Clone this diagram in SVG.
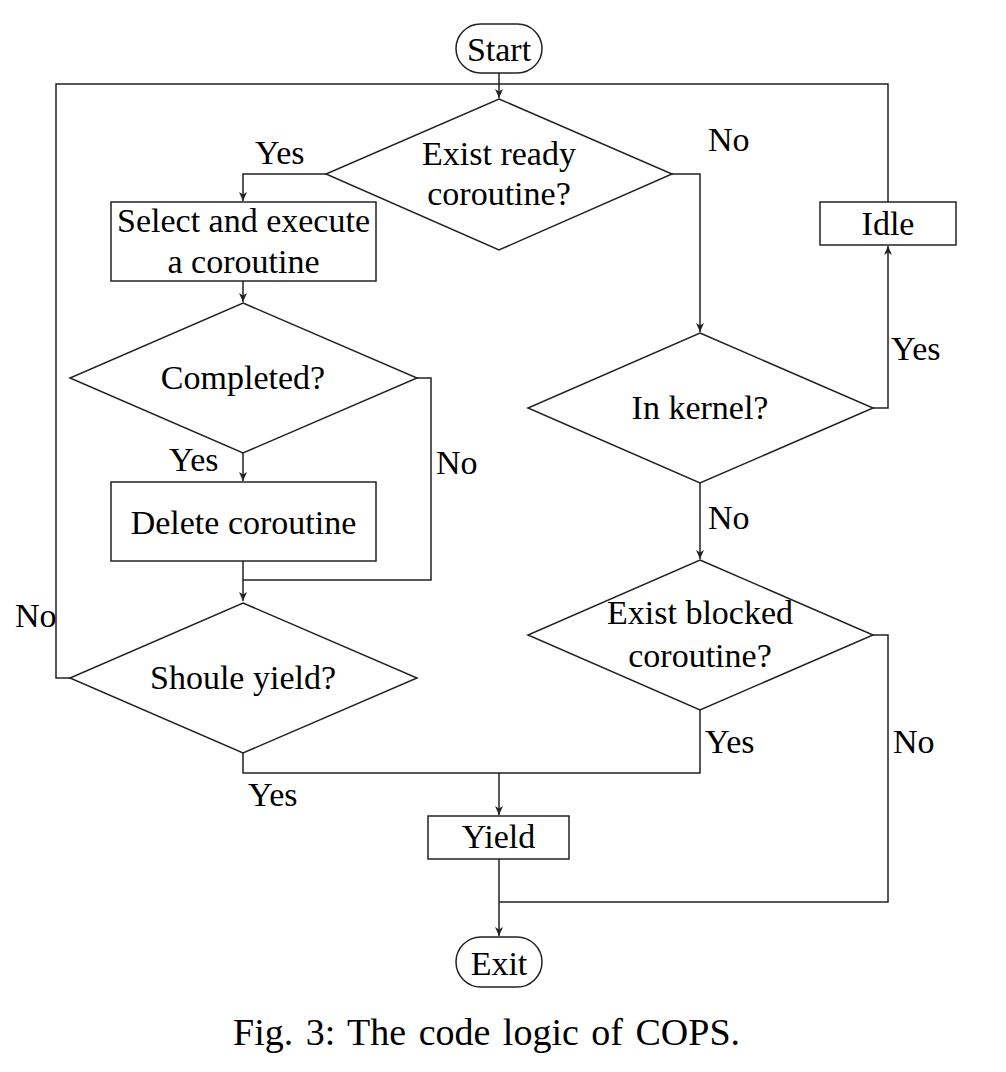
<svg xmlns="http://www.w3.org/2000/svg" width="1006" height="1072" viewBox="0 0 1006 1072">
<style>
  .shape { fill: #fff; stroke: #222; stroke-width: 1.5; }
  .conn { fill: none; stroke: #222; stroke-width: 1.5; }
  text { font-family: "Liberation Serif", "Times New Roman", serif; font-size: 34px; fill: #000; }
  .c { text-anchor: middle; }
  .cap { font-size: 38px; word-spacing: 3px; }
</style>
<defs>
  <marker id="arr" markerUnits="userSpaceOnUse" markerWidth="12" markerHeight="12" viewBox="-10 -6 12 12" refX="0" refY="0" orient="auto">
    <path d="M0,0 L-9,-4 L-6.5,0 L-9,4 Z" fill="#222"/>
  </marker>
</defs>
<rect width="1006" height="1072" fill="#fff"/>

<g id="connectors">
  <path class="conn" d="M499,73 V98" marker-end="url(#arr)"/>
  <path class="conn" d="M326,174 H243 V201" marker-end="url(#arr)"/>
  <path class="conn" d="M243,281 V302" marker-end="url(#arr)"/>
  <path class="conn" d="M243,453 V481" marker-end="url(#arr)"/>
  <path class="conn" d="M243,561 V601" marker-end="url(#arr)"/>
  <path class="conn" d="M417,378 H431 V580 H243"/>
  <path class="conn" d="M70,678 H56 V84 H499"/>
  <path class="conn" d="M243,753 V773 H700 V710"/>
  <path class="conn" d="M499,773 V815" marker-end="url(#arr)"/>
  <path class="conn" d="M672,174 H700 V332" marker-end="url(#arr)"/>
  <path class="conn" d="M873,408 H888 V246" marker-end="url(#arr)"/>
  <path class="conn" d="M888,202 V84 H499"/>
  <path class="conn" d="M700,483 V559" marker-end="url(#arr)"/>
  <path class="conn" d="M873,635 H888 V902 H499"/>
  <path class="conn" d="M499,859 V936" marker-end="url(#arr)"/>
</g>

<g id="labels">
  <text x="255" y="164">Yes</text>
  <text x="708" y="151">No</text>
  <text x="169" y="471">Yes</text>
  <text x="436" y="474">No</text>
  <text x="15" y="627">No</text>
  <text x="248" y="806">Yes</text>
  <text x="891" y="360">Yes</text>
  <text x="708" y="529">No</text>
  <text x="705" y="753">Yes</text>
  <text x="893" y="753">No</text>
</g>

<g id="start">
  <rect class="shape" x="456" y="24" width="86" height="49" rx="24.5" ry="24.5"/>
  <text class="c" x="499" y="61">Start</text>
</g>
<g id="exist-ready">
  <polygon class="shape" points="499,99 672,174 499,250 326,174"/>
  <text class="c" x="499" y="165">Exist ready</text>
  <text class="c" x="499" y="205">coroutine?</text>
</g>
<g id="select-execute">
  <rect class="shape" x="111" y="202" width="265" height="79"/>
  <text class="c" x="243.5" y="232">Select and execute</text>
  <text class="c" x="243.5" y="273">a coroutine</text>
</g>
<g id="completed">
  <polygon class="shape" points="243,303 417,378 243,453 70,378"/>
  <text class="c" x="243" y="389">Completed?</text>
</g>
<g id="delete">
  <rect class="shape" x="111" y="482" width="265" height="79"/>
  <text class="c" x="243.5" y="534">Delete coroutine</text>
</g>
<g id="should-yield">
  <polygon class="shape" points="243,603 417,678 243,753 70,678"/>
  <text class="c" x="243" y="689">Shoule yield?</text>
</g>
<g id="in-kernel">
  <polygon class="shape" points="700,333 873,408 700,483 528,408"/>
  <text class="c" x="700" y="419">In kernel?</text>
</g>
<g id="idle">
  <rect class="shape" x="820" y="202" width="136" height="43"/>
  <text class="c" x="888" y="235">Idle</text>
</g>
<g id="exist-blocked">
  <polygon class="shape" points="700,560 873,635 700,710 528,635"/>
  <text class="c" x="700" y="624">Exist blocked</text>
  <text class="c" x="700" y="667">coroutine?</text>
</g>
<g id="yield">
  <rect class="shape" x="428" y="816" width="141" height="43"/>
  <text class="c" x="498.5" y="848">Yield</text>
</g>
<g id="exit">
  <rect class="shape" x="456" y="937" width="86" height="50" rx="25" ry="25"/>
  <text class="c" x="499" y="975">Exit</text>
</g>

<text class="cap" x="233" y="1045">Fig. 3: The code logic of COPS.</text>
</svg>
